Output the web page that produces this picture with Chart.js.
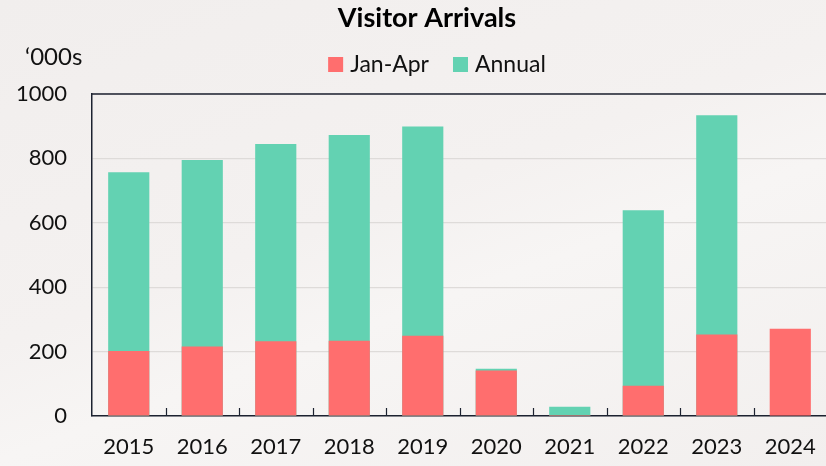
<!DOCTYPE html>
<html>
<head>
<meta charset="utf-8">
<script src="https://cdn.jsdelivr.net/npm/chart.js@4.4.0/dist/chart.umd.min.js"></script>
<style>
  html, body { margin: 0; padding: 0; overflow: hidden; }
  body {
    width: 826px; height: 466px;
    background: linear-gradient(160deg, #f1eeed 0%, #f4f1f0 45%, #f7f5f4 60%, #f2efee 100%);
  }
  #wrap { position: relative; width: 834px; height: 466px; }
</style>
</head>
<body>
<div id="wrap"><canvas id="arrivalsChart" width="834" height="466"></canvas></div>
<script>
// ===============================
// Data ('000s)
// ===============================
const years = ["2015", "2016", "2017", "2018", "2019", "2020", "2021", "2022", "2023", "2024"];
const janApr = [202, 216, 232, 234, 249, 141, 3, 94, 253, 271];
const annual = [757, 795, 845, 873, 899, 147, 29, 639, 934, null];
const yTicks = [0, 200, 400, 600, 800, 1000];

const FONT = "Lato, 'Open Sans', sans-serif";
const AXIS_COLOR = "#1c2230";

// title, unit label, legend and small inward ticks on the category axis
const extras = {
  id: "extras",
  afterDraw(chart) {
    const ctx = chart.ctx;
    const area = chart.chartArea;
    const x = chart.scales.x;
    ctx.save();
    ctx.textBaseline = "middle";

    // title
    ctx.font = "bold 27px " + FONT;
    ctx.fillStyle = "#000";
    ctx.textAlign = "center";
    ctx.fillText("Visitor Arrivals", 427, 18);

    ctx.textAlign = "left";
    ctx.font = "24px " + FONT;
    ctx.fillStyle = "#111";
    ctx.fillText("\u2018000s", 25, 57);

    // legend
    ctx.font = "23px " + FONT;
    const items = chart.data.datasets.map(ds => ({ text: ds.label, color: ds.backgroundColor, w: ctx.measureText(ds.label).width }));
    const box = 15, gap = 7, between = 24;
    let total = 0;
    items.forEach((it, i) => { total += box + gap + it.w + (i ? between : 0); });
    let lx = 437 - total / 2;
    items.forEach(it => {
      ctx.fillStyle = it.color;
      ctx.fillRect(lx, 57, box, box);
      ctx.fillStyle = "#111";
      ctx.fillText(it.text, lx + box + gap, 65);
      lx += box + gap + it.w + between;
    });

    // boundary ticks
    ctx.strokeStyle = AXIS_COLOR;
    ctx.lineWidth = 1.2;
    for (let i = 1; i < years.length; i++) {
      const bx = Math.round((x.getPixelForTick(i - 1) + x.getPixelForTick(i)) / 2) + 0.5;
      ctx.beginPath();
      ctx.moveTo(bx, area.bottom);
      ctx.lineTo(bx, area.bottom - 8);
      ctx.stroke();
    }

    // top border of plot
    ctx.lineWidth = 1.5;
    ctx.beginPath();
    ctx.moveTo(area.left, area.top);
    ctx.lineTo(area.right, area.top);
    ctx.stroke();
    ctx.restore();
  }
};

new Chart(document.getElementById("arrivalsChart"), {
  type: "bar",
  data: {
    labels: years,
    datasets: [
      { label: "Jan-Apr", data: janApr, backgroundColor: "#ff6e6e", barPercentage: 0.56, categoryPercentage: 1 },
      { label: "Annual", data: annual, backgroundColor: "#63d2b2", barPercentage: 0.56, categoryPercentage: 1 }
    ]
  },
  options: {
    responsive: false,
    animation: false,
    layout: { padding: { left: 0, top: 94, right: 4, bottom: 4 } },
    plugins: {
      title: { display: false },
      legend: { display: false },
      tooltip: { enabled: false }
    },
    scales: {
      x: {
        stacked: true,
        afterFit(scale) { scale.height = 46; },
        grid: { display: false, drawTicks: false },
        border: { display: true, color: AXIS_COLOR, width: 1.5 },
        ticks: { color: "#111", font: { family: FONT, size: 22 }, padding: 18 }
      },
      y: {
        stacked: false,
        min: 0,
        max: 1000,
        afterBuildTicks(scale) { scale.ticks = yTicks.map(v => ({ value: v })); },
        afterFit(scale) { scale.width = 92; },
        grid: { color: "#dedbd9", lineWidth: 1.2, drawTicks: false },
        border: { display: true, color: AXIS_COLOR, width: 1.5 },
        ticks: { color: "#111", font: { family: FONT, size: 22 }, padding: 25, callback: v => String(v) }
      }
    }
  },
  plugins: [extras]
});
</script>
</body>
</html>
